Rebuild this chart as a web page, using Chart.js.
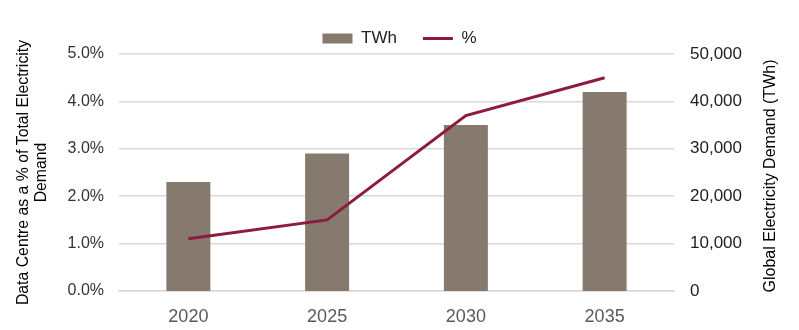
<!DOCTYPE html>
<html>
<head>
<meta charset="utf-8">
<script src="https://cdn.jsdelivr.net/npm/chart.js@4.4.1/dist/chart.umd.min.js"></script>
<style>
  html, body { margin: 0; padding: 0; background: #ffffff; }
  #wrap { width: 799px; height: 330px; position: relative; }
</style>
</head>
<body>
<div id="wrap"><canvas id="graf"></canvas></div>
<script>
/* data aflæst fra referencen */
const aar = ['2020', '2025', '2030', '2035'];
const twh = [23000, 29000, 35000, 42000];
const procent = [1.1, 1.5, 3.7, 4.5];
const venstreTicks = [0, 1, 2, 3, 4, 5];
const hoejreTicks = [0, 10000, 20000, 30000, 40000, 50000];

const FONT = "'Liberation Sans', Arial, Helvetica, sans-serif";

/* tegner højre aksetitel roteret -90 grader, som i referencen */
const hoejreTitel = {
    id: 'hoejreTitel',
    afterDraw(chart) {
        const ctx = chart.ctx;
        ctx.save();
        ctx.translate(771, 176);
        ctx.rotate(-Math.PI / 2);
        ctx.font = '16px ' + FONT;
        ctx.fillStyle = '#000000';
        ctx.textAlign = 'center';
        ctx.textBaseline = 'middle';
        ctx.fillText('Global Electricity Demand (TWh)', 0, 0);
        ctx.restore();
    }
};

/* justerer legendens højde så plotområdet starter det rigtige sted */
const legendHoejde = {
    id: 'legendHoejde',
    beforeInit(chart) {
        const fit = chart.legend.fit;
        chart.legend.fit = function () {
            fit.bind(chart.legend)();
            this.height = 50;
        };
    }
};

new Chart(document.getElementById('graf'), {
    type: 'bar',
    data: {
        labels: aar,
        datasets: [
            {
                label: 'TWh',
                data: twh,
                yAxisID: 'y1',
                backgroundColor: '#857a6d',
                borderWidth: 0,
                barPercentage: 0.317,
                categoryPercentage: 1,
                pointStyle: 'rect',
                order: 1
            },
            {
                type: 'line',
                label: '%',
                data: procent,
                yAxisID: 'y',
                borderColor: '#8c1c3e',
                backgroundColor: '#8c1c3e',
                borderWidth: 3,
                pointRadius: 0,
                pointStyle: 'line',
                tension: 0,
                order: 0
            }
        ]
    },
    options: {
        responsive: true,
        maintainAspectRatio: false,
        animation: false,
        layout: { padding: { top: 4, left: 0, right: 0, bottom: 0 } },
        plugins: {
            tooltip: { enabled: false },
            legend: {
                display: true,
                position: 'top',
                labels: {
                    usePointStyle: true,
                    pointStyleWidth: 30,
                    boxHeight: 10,
                    padding: 26,
                    color: '#222222',
                    font: { family: FONT, size: 17 },
                    sort: (a, b) => a.datasetIndex - b.datasetIndex
                }
            }
        },
        scales: {
            x: {
                afterFit: (skala) => { skala.height = 39; },
                grid: { display: false, drawTicks: false },
                border: { display: true, color: '#d9d9d9', width: 1.5 },
                ticks: {
                    color: '#595959',
                    padding: 15,
                    font: { family: FONT, size: 18 }
                }
            },
            y: {
                position: 'left',
                min: 0,
                max: 5,
                afterFit: (skala) => { skala.width = 119; },
                afterBuildTicks: (skala) => {
                    skala.ticks = venstreTicks.map(v => ({ value: v }));
                },
                grid: { color: '#d9d9d9', lineWidth: 1.5, drawTicks: false },
                border: { display: false },
                ticks: {
                    color: '#333333',
                    padding: 15,
                    font: { family: FONT, size: 16 },
                    callback: (val) => val.toFixed(1) + '%'
                },
                title: {
                    display: true,
                    text: ['Data Centre as a % of Total Electricity', 'Demand'],
                    color: '#000000',
                    font: { family: FONT, size: 15.8, lineHeight: 1.11 },
                    padding: { top: 15.2, bottom: 0 }
                }
            },
            y1: {
                position: 'right',
                min: 0,
                max: 50000,
                afterFit: (skala) => { skala.width = 125; },
                afterBuildTicks: (skala) => {
                    skala.ticks = hoejreTicks.map(v => ({ value: v }));
                },
                grid: { display: false, drawTicks: false },
                border: { display: false },
                ticks: {
                    color: '#222222',
                    padding: 16,
                    font: { family: FONT, size: 17 },
                    callback: (val) => val.toLocaleString('en-US')
                }
            }
        }
    },
    plugins: [legendHoejde, hoejreTitel]
});
</script>
</body>
</html>
